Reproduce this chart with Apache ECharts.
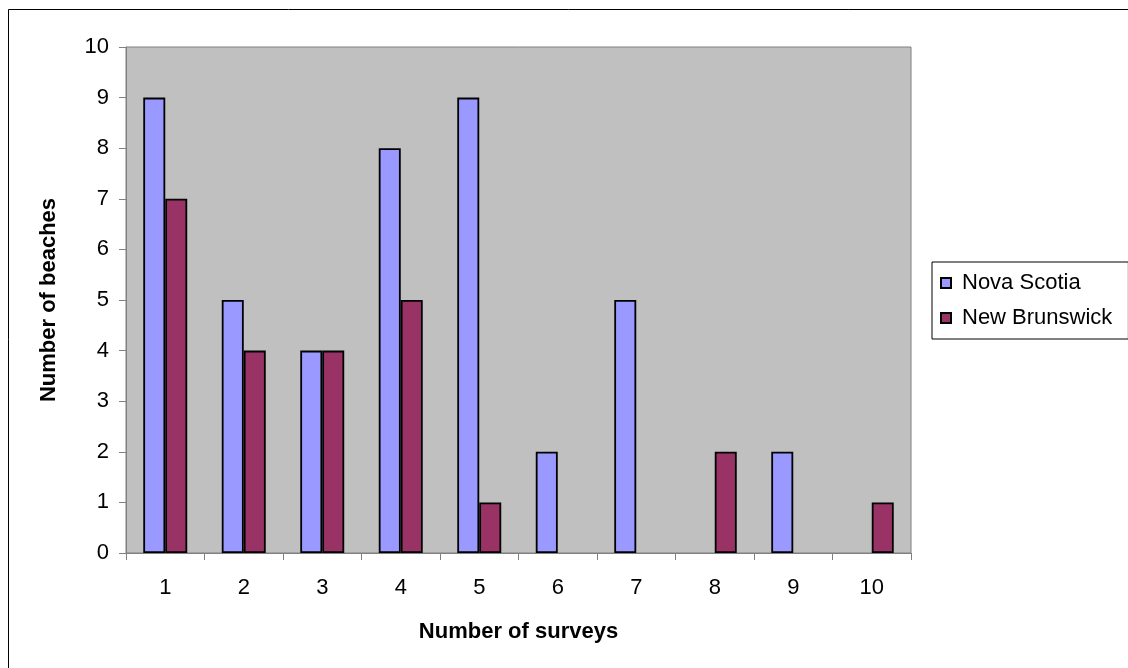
<!DOCTYPE html>
<html>
<head>
<meta charset="utf-8">
<script src="https://cdn.jsdelivr.net/npm/echarts@6/dist/echarts.min.js"></script>
<style>
  html, body { margin: 0; padding: 0; background: #fff; }
  #chart { width: 1128px; height: 668px; }
</style>
</head>
<body>
<div id="chart"></div>
<script>
// survey counts
var surveys = ['1', '2', '3', '4', '5', '6', '7', '8', '9', '10'];
var novaScotia = [9, 5, 4, 8, 9, 2, 5, 0, 2, 0];
var newBrunswick = [7, 4, 4, 5, 1, 0, 0, 2, 0, 1];

var font = 'Liberation Sans, Arial, sans-serif';
var chart = echarts.init(document.getElementById('chart'));

// zero bars are not drawn in the original (no border stub)
function noZero(arr) {
  return arr.map(function (v) { return v === 0 ? null : v; });
}

var option = {
  animation: false,
  textStyle: { fontFamily: font, color: '#000' },
  graphic: [{
    type: 'rect',
    shape: { x: 8.5, y: 9.5, width: 1300, height: 800 },
    style: { fill: 'none', stroke: '#000', lineWidth: 1 },
    silent: true
  }],
  grid: {
    left: 126, top: 47, right: 217, bottom: 115,
    show: true, backgroundColor: '#c0c0c0',
    borderColor: '#808080', borderWidth: 1
  },
  legend: {
    orient: 'vertical',
    left: 932, top: 262,
    padding: [10, 16, 10, 8],
    itemWidth: 10, itemHeight: 10, itemGap: 13,
    borderColor: '#000', borderWidth: 1,
    icon: 'rect',
    textStyle: { fontFamily: font, fontSize: 22, color: '#000', padding: [0, 0, 0, 6] },
    data: ['Nova Scotia', 'New Brunswick']
  },
  xAxis: {
    type: 'category',
    data: surveys,
    name: 'Number of surveys',
    nameLocation: 'middle',
    nameGap: 68,
    nameTextStyle: { fontFamily: font, fontSize: 22, fontWeight: 'bold', color: '#000' },
    axisLine: { lineStyle: { color: '#808080', width: 1 } },
    axisTick: { show: true, length: 7, lineStyle: { color: '#808080' } },
    axisLabel: { fontFamily: font, fontSize: 22, color: '#000', margin: 24 },
    splitLine: { show: false }
  },
  yAxis: {
    type: 'value',
    min: 0, max: 10, interval: 1,
    name: 'Number of beaches',
    nameLocation: 'middle',
    nameRotate: 90,
    nameGap: 66,
    nameTextStyle: { fontFamily: font, fontSize: 22, fontWeight: 'bold', color: '#000' },
    axisLine: { show: true, lineStyle: { color: '#808080', width: 1 } },
    axisTick: { show: true, length: 7, lineStyle: { color: '#808080' } },
    axisLabel: { fontFamily: font, fontSize: 22, color: '#000', margin: 17 },
    splitLine: { show: false }
  },
  series: [
    {
      name: 'Nova Scotia',
      type: 'bar',
      data: noZero(novaScotia),
      barGap: '0%',
      barCategoryGap: '44%',
      itemStyle: { color: '#9999ff', borderColor: '#000', borderWidth: 1.8 }
    },
    {
      name: 'New Brunswick',
      type: 'bar',
      data: noZero(newBrunswick),
      barGap: '0%',
      barCategoryGap: '44%',
      itemStyle: { color: '#993366', borderColor: '#000', borderWidth: 1.8 }
    }
  ]
};

chart.setOption(option);
</script>
</body>
</html>
